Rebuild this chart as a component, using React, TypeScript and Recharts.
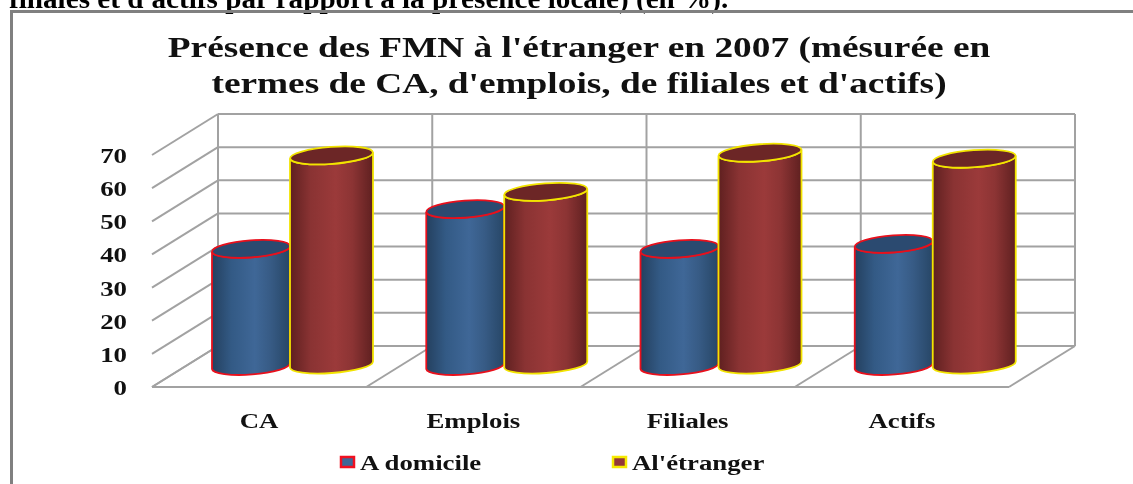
import { Bar, BarChart, CartesianGrid, Legend, XAxis, YAxis } from "recharts";

const categories = ["CA", "Emplois", "Filiales", "Actifs"];
const domicile = [35.5, 47.5, 35.5, 37];
const etranger = [63.7, 52.7, 64.5, 62.7];
const valueTicks = [0, 10, 20, 30, 40, 50, 60, 70];
const wallTicks = [0, 1, 2, 3, 4];
const titleLines = ["Présence des FMN à l'étranger en 2007 (mésurée en", "termes de CA, d'emplois, de filiales et d'actifs)"];

const data = categories.map((category, i) => ({
  category,
  domicile: domicile[i],
  etranger: etranger[i],
  wall: i,
}));

// depth of the fake 3D box, in px
const DEPTH_X = 66;
const DEPTH_Y = 41;
const PLOT_BOTTOM = 387;
const PLOT_TOP = 155;
const GRID_COLOR = "#a2a2a2";
const FONT = "'Liberation Serif', serif";

function Stretched({ x, y, scale, size, anchor = "start", children, fill = "#111" }: any) {
  return (
    <text
      transform={`translate(${x},${y}) scale(${scale},1)`}
      textAnchor={anchor}
      fontFamily={FONT}
      fontWeight="bold"
      fontSize={size}
      fill={fill}
    >
      {children}
    </text>
  );
}

function HorizontalWall(props: any) {
  const { x1, y1, x2 } = props;
  const isFloor = Math.abs(y1 - PLOT_BOTTOM) < 1;
  return (
    <g stroke={GRID_COLOR} strokeWidth={2} fill="none">
      <line x1={x1} y1={y1} x2={x1 + DEPTH_X} y2={y1 - DEPTH_Y} />
      <line x1={x1 + DEPTH_X} y1={y1 - DEPTH_Y} x2={x2 + DEPTH_X} y2={y1 - DEPTH_Y} />
      {isFloor && <line x1={x1} y1={y1} x2={x2} y2={y1} />}
    </g>
  );
}

function VerticalWall(props: any) {
  const { x1 } = props;
  return (
    <g stroke={GRID_COLOR} strokeWidth={2} fill="none">
      <line x1={x1 + DEPTH_X} y1={PLOT_TOP - DEPTH_Y} x2={x1 + DEPTH_X} y2={PLOT_BOTTOM - DEPTH_Y} />
      <line x1={x1} y1={PLOT_BOTTOM} x2={x1 + DEPTH_X} y2={PLOT_BOTTOM - DEPTH_Y} />
    </g>
  );
}

// cylinder sitting in the middle of the box depth, slightly tilted like the original
function Cylinder({ x, y, width, height, gradient, top, stroke, grow, shift, lift }: any) {
  const left = x + DEPTH_X / 2 + shift;
  const w = width + grow;
  const right = left + w;
  const cy = y - DEPTH_Y / 2;
  const by = cy + height - lift;
  const rx = w / 2;
  const ry = 8.5;
  const tilt = 3;
  const rot = -4.2;
  const mid = left + rx;
  const side = `M${left},${cy + tilt} L${left},${by + tilt} A${rx},${ry} ${rot} 0 0 ${right},${by - tilt} L${right},${cy - tilt} A${rx},${ry} ${rot} 0 1 ${left},${cy + tilt} Z`;
  return (
    <g>
      <path d={side} fill={`url(#${gradient})`} stroke={stroke} strokeWidth={1.8} />
      <ellipse
        cx={mid}
        cy={cy}
        rx={rx}
        ry={ry}
        transform={`rotate(${rot} ${mid} ${cy})`}
        fill={top}
        stroke={stroke}
        strokeWidth={1.8}
      />
    </g>
  );
}

function DomicileBar(props: any) {
  return <Cylinder {...props} gradient="blueCyl" top="#2b4a70" stroke="#e8101c" grow={-2} shift={0} lift={0.5} />;
}

function EtrangerBar(props: any) {
  return <Cylinder {...props} gradient="redCyl" top="#6c2626" stroke="#f2e400" grow={3} shift={-2} lift={2} />;
}

function ValueTick({ x, y, payload }: any) {
  return (
    <Stretched x={x} y={y + 8} scale={1.28} size={21} anchor="end">
      {payload.value}
    </Stretched>
  );
}

function CategoryTick({ x, y, payload }: any) {
  return (
    <Stretched x={x} y={y + 15} scale={1.34} size={20} anchor="middle">
      {payload.value}
    </Stretched>
  );
}

function LegendBox() {
  return (
    <svg width={1133} height={40} style={{ display: "block" }}>
      <rect x={341} y={17} width={13} height={10} fill="#3f6797" stroke="#f01020" strokeWidth={2.5} />
      <Stretched x={360} y={30} scale={1.34} size={20}>A domicile</Stretched>
      <rect x={613} y={17} width={13} height={10} fill="#943838" stroke="#f6ea00" strokeWidth={2.5} />
      <Stretched x={632} y={30} scale={1.34} size={20}>Al'étranger</Stretched>
    </svg>
  );
}

export default function App() {
  return (
    <div
      style={{
        position: "absolute",
        left: 0,
        top: 0,
        width: 1133,
        height: 484,
        overflow: "hidden",
        background: "#fff",
        filter: "blur(0.5px)",
      }}
    >
      <BarChart
        width={1133}
        height={484}
        data={data}
        barSize={80}
        barGap={0}
        margin={{ top: PLOT_TOP, left: 92, right: 124, bottom: 57 }}
      >
        <defs>
          <linearGradient id="blueCyl" x1="0" y1="0" x2="1" y2="0">
            <stop offset="0%" stopColor="#24405f" />
            <stop offset="25%" stopColor="#335a85" />
            <stop offset="55%" stopColor="#3f6797" />
            <stop offset="75%" stopColor="#375b85" />
            <stop offset="100%" stopColor="#274666" />
          </linearGradient>
          <linearGradient id="redCyl" x1="0" y1="0" x2="1" y2="0">
            <stop offset="0%" stopColor="#5f2020" />
            <stop offset="25%" stopColor="#8a3333" />
            <stop offset="55%" stopColor="#9b3a3a" />
            <stop offset="75%" stopColor="#8c3434" />
            <stop offset="100%" stopColor="#5f2020" />
          </linearGradient>
        </defs>
        <Stretched x={9} y={8} scale={1.08} size={27} fill="#000">
          finales et d'actifs par rapport à la présence locale) (en %).
        </Stretched>
        <rect x={11.5} y={11.5} width={1300} height={700} fill="none" stroke="#808080" strokeWidth={3} />
        <Stretched x={579} y={57} scale={1.245} size={30} anchor="middle">{titleLines[0]}</Stretched>
        <Stretched x={579} y={93} scale={1.245} size={30} anchor="middle">{titleLines[1]}</Stretched>
        <CartesianGrid xAxisId="wall" horizontal={HorizontalWall} vertical={VerticalWall} />
        <XAxis dataKey="category" axisLine={false} tickLine={false} tick={CategoryTick} height={40} tickMargin={20} />
        <XAxis xAxisId="wall" type="number" dataKey="wall" domain={[0, 4]} ticks={wallTicks} hide />
        <YAxis
          domain={[0, 70]}
          ticks={valueTicks}
          axisLine={false}
          tickLine={false}
          tick={ValueTick}
          width={60}
          tickMargin={19}
          interval={0}
        />
        <Legend
          layout="vertical"
          verticalAlign="middle"
          align="center"
          wrapperStyle={{ left: 0, top: 440, width: 1133 }}
          content={LegendBox}
        />
        <Bar dataKey="domicile" name="A domicile" shape={DomicileBar} isAnimationActive={false} />
        <Bar dataKey="etranger" name="Al'étranger" shape={EtrangerBar} isAnimationActive={false} />
      </BarChart>
    </div>
  );
}
